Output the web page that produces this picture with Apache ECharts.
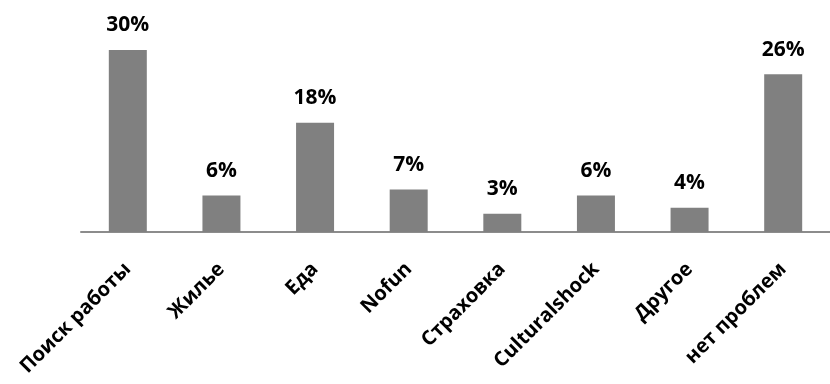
<!DOCTYPE html>
<html>
<head>
<meta charset="utf-8">
<script src="https://cdn.jsdelivr.net/npm/echarts@6/dist/echarts.min.js"></script>
<style>
    html, body { margin: 0; padding: 0; background: #fff; }
    #chart { width: 830px; height: 384px; }
</style>
</head>
<body>
<div id="chart"></div>
<script>
    // категории и проценты
    const categories = ['Поиск работы', 'Жилье', 'Еда', 'Nofun', 'Страховка', 'Culturalshock', 'Другое', 'нет проблем']
    const values = [30, 6, 18, 7, 3, 6, 4, 26]

    const font = '"Open Sans", sans-serif'
    let chart = echarts.init(document.getElementById('chart'))
    chart.setOption({
        animation: false,
        grid: {left: 81, width: 752, top: 50, bottom: 152},
        xAxis: {
            type: 'category',
            data: categories,
            axisLine: {lineStyle: {color: '#8c8c8c', width: 2}},
            axisTick: {show: false},
            axisLabel: {
                interval: 0,
                rotate: 45,
                margin: 34,
                color: '#000',
                fontWeight: 'bold',
                fontSize: 20,
                fontFamily: font
            }
        },
        yAxis: {
            type: 'value',
            min: 0,
            max: 30,
            show: false
        },
        series: [{
            type: 'bar',
            data: values,
            barWidth: 38,
            itemStyle: {color: '#808080'},
            label: {
                show: true,
                position: 'top',
                distance: 14,
                formatter: '{c}%',
                color: '#000',
                fontWeight: 'bold',
                fontSize: 21,
                fontFamily: font
            }
        }]
    })
</script>
</body>
</html>
